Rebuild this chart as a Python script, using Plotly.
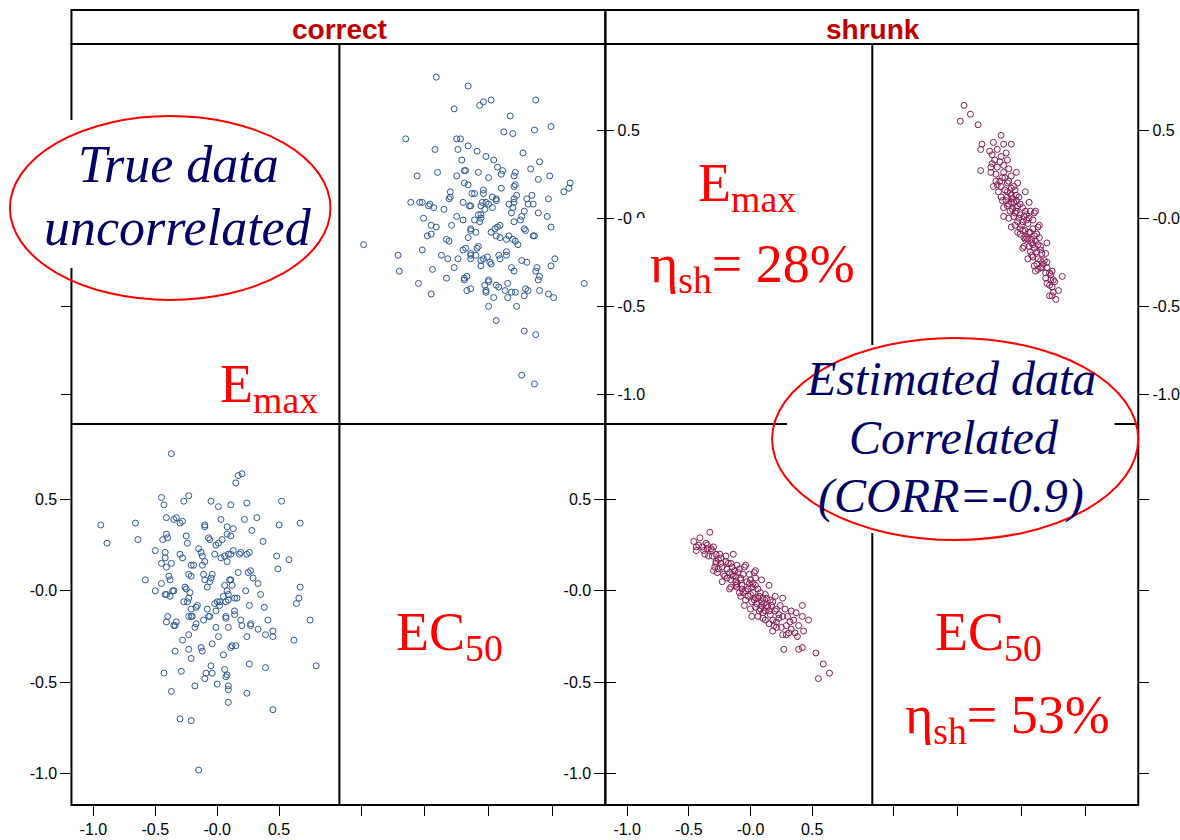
import plotly.graph_objects as go

W, H = 1180, 840

panel_names = ["correct", "shrunk"]
tick_vals = [-1.0, -0.5, 0.0, 0.5]
tick_text = ["-1.0", "-0.5", "-0.0", "0.5"]

emax_x_range = [-1.177, 0.987]
emax_y_range = [-1.167, 0.988]
ec50_x_range = [-1.170, 0.916]
ec50_y_range = [-1.171, 0.912]

correct_emax = [
    -0.37, 0.20, 0.17, 0.15, -0.23, -0.45, -0.27, -0.43, -0.05, 0.01,
    0.11, 0.24, 0.52, -0.94, -0.66, -0.89, -0.64, -0.41, -0.35, -0.33,
    -0.30, -0.28, 0.03, -0.10, -0.10, 0.08, 0.13, 0.22, 0.32, 0.28,
    0.50, 0.67, -0.41, -0.44, -0.40, -0.25, -0.24, -0.07, -0.06, -0.01,
    0.01, 0.04, 0.08, 0.11, 0.37, -0.50, -0.42, -0.42, -0.45, -0.41,
    -0.37, -0.30, -0.28, -0.15, -0.13, -0.12, -0.10, -0.12, -0.02, 0.03,
    0.08, 0.06, 0.09, 0.11, 0.13, 0.18, 0.19, 0.24, 0.26, 0.48,
    0.58, 0.49, -0.21, -0.19, -0.23, -0.21, -0.11, -0.10, -0.05, -0.04,
    -0.06, -0.08, 0.17, 0.25, 0.27, 0.29, 0.33, 0.11, 0.10, 0.06,
    0.12, -0.58, -0.39, -0.38, -0.45, -0.50, -0.42, -0.41, -0.38, -0.36,
    -0.35, -0.26, -0.25, -0.22, -0.23, -0.27, -0.24, -0.21, -0.17, -0.16,
    -0.23, -0.21, -0.20, -0.17, -0.18, -0.11, -0.08, -0.07, -0.06, -0.02,
    0.00, 0.02, 0.02, 0.05, 0.07, 0.09, 0.09, 0.08, 0.07, 0.07,
    0.14, 0.16, 0.14, 0.14, 0.19, 0.23, 0.26, 0.27, 0.27, 0.20,
    0.24, 0.35, 0.38, 0.41, 0.45, 0.45, 0.39, 0.33, 0.67, 0.66,
    0.64, 0.75, 0.62, 0.80, -0.40, -0.33, -0.34, -0.35, -0.23, -0.28,
    -0.34, -0.23, -0.21, -0.13, -0.12, -0.04, -0.01, 0.01, 0.09, 0.11,
    0.12, 0.15, 0.05, -0.05, -0.04, -0.09, -0.10, 0.00, 0.06, 0.07,
    0.08, 0.09, 0.09, 0.09, 0.24, 0.26, 0.39, 0.45, -0.43, -0.29,
    -0.37, -0.30, -0.21, -0.15, -0.18, -0.41, -0.01,
]
correct_ec50 = [
    0.75, 0.64, 0.63, 0.59, 0.52, 0.51, 0.49, 0.47, 0.49, 0.46,
    0.47, 0.48, 0.49, 0.36, 0.37, 0.26, 0.28, 0.40, 0.39, 0.40,
    0.37, 0.38, 0.39, 0.36, 0.35, 0.35, 0.34, 0.39, 0.40, 0.33,
    0.36, 0.37, 0.31, 0.28, 0.29, 0.30, 0.26, 0.29, 0.28, 0.25,
    0.26, 0.28, 0.31, 0.30, 0.27, 0.22, 0.21, 0.18, 0.15, 0.13,
    0.15, 0.20, 0.18, 0.23, 0.21, 0.19, 0.16, 0.14, 0.20, 0.18,
    0.16, 0.19, 0.20, 0.20, 0.22, 0.20, 0.21, 0.20, 0.21, 0.19,
    0.17, 0.12, 0.14, 0.14, 0.09, 0.08, 0.09, 0.06, 0.07, 0.09,
    0.05, 0.02, 0.10, 0.10, 0.11, 0.07, 0.04, 0.06, 0.06, 0.03,
    0.03, 0.06, 0.08, 0.06, 0.04, 0.00, -0.02, -0.02, -0.03, 0.00,
    0.00, 0.02, 0.01, -0.01, -0.04, -0.06, -0.06, -0.10, -0.09, -0.08,
    -0.14, -0.14, -0.14, -0.18, -0.20, -0.16, -0.10, -0.14, -0.14, -0.07,
    -0.06, -0.06, -0.08, -0.03, -0.06, -0.05, -0.02, 0.00, -0.15, -0.14,
    -0.04, -0.04, -0.13, -0.11, -0.16, 0.00, -0.08, -0.18, -0.19, -0.19,
    -0.25, -0.02, -0.09, -0.16, -0.22, -0.25, -0.24, -0.21, 0.02, -0.04,
    -0.07, -0.16, -0.27, -0.41, -0.14, -0.17, -0.19, -0.19, -0.24, -0.27,
    -0.33, -0.32, -0.37, -0.31, -0.33, -0.29, -0.20, -0.25, -0.20, -0.31,
    -0.30, -0.30, -0.35, -0.41, -0.45, -0.45, -0.48, -0.51, -0.43, -0.47,
    -0.46, -0.52, -0.54, -0.61, -0.56, -0.40, -0.42, -0.65, -0.45, -0.44,
    -0.55, -0.70, -0.71, -0.98, -0.52, -0.17, -0.11,
]

shrunk_emax = [
    -0.33, -0.41, -0.46, -0.36, -0.44, -0.39, -0.35, -0.32, -0.31, -0.37,
    -0.34, -0.28, -0.25, -0.24, -0.26, -0.14, -0.20, -0.28, -0.30, -0.27,
    -0.23, -0.18, -0.15, -0.11, -0.05, -0.22, -0.19, -0.14, -0.10, -0.06,
    0.03, 0.04, -0.16, -0.12, -0.08, -0.03, 0.00, 0.09, -0.17, -0.11,
    -0.07, -0.04, 0.01, 0.04, 0.06, 0.15, -0.08, -0.04, -0.02, 0.01,
    0.06, 0.12, 0.13, 0.16, 0.20, 0.26, 0.00, 0.04, 0.09, 0.13,
    0.17, 0.01, 0.06, 0.10, 0.15, 0.20, 0.23, 0.28, 0.33, 0.42,
    0.12, 0.15, 0.18, 0.23, 0.26, 0.18, 0.25, 0.32, 0.33, 0.26,
    0.31, 0.36, 0.39, 0.43, 0.42, 0.47, 0.27, 0.39, 0.42, 0.53,
    0.59, 0.64, 0.55, -0.44, -0.38, -0.30, -0.28, -0.16, -0.04, -0.26,
    -0.21, -0.15, -0.12, -0.08, 0.04, -0.16, -0.11, -0.07, -0.01, -0.09,
    0.00, 0.04, 0.08, 0.05, 0.09, 0.07, 0.12, 0.21, 0.10, 0.19,
    0.21, 0.29, 0.35, 0.29, 0.38, -0.13, -0.09, -0.17, -0.12, -0.06,
    -0.02, 0.02, 0.03, 0.07, 0.10, 0.11, 0.08, 0.14, 0.16, -0.35,
    -0.31, -0.24, -0.19, -0.29, 0.21, -0.42, -0.20, -0.01, 0.02, 0.18,
    0.24, 0.37, 0.30, -0.23, -0.05,
]
shrunk_ec50 = [
    0.32, 0.29, 0.27, 0.26, 0.22, 0.24, 0.23, 0.23, 0.22, 0.20,
    0.19, 0.20, 0.20, 0.18, 0.17, 0.20, 0.16, 0.15, 0.11, 0.10,
    0.13, 0.15, 0.13, 0.14, 0.13, 0.09, 0.07, 0.08, 0.10, 0.09,
    0.10, 0.07, 0.06, 0.05, 0.06, 0.05, 0.06, 0.06, 0.01, 0.02,
    0.01, 0.00, 0.02, 0.03, 0.01, 0.03, -0.03, -0.05, -0.03, -0.06,
    -0.04, -0.02, -0.04, -0.05, -0.03, -0.04, -0.10, -0.09, -0.08, -0.08,
    -0.08, -0.14, -0.14, -0.12, -0.11, -0.11, -0.13, -0.10, -0.11, -0.08,
    -0.16, -0.18, -0.16, -0.15, -0.14, -0.22, -0.20, -0.17, -0.21, -0.24,
    -0.23, -0.23, -0.19, -0.22, -0.14, -0.16, -0.32, -0.32, -0.31, -0.34,
    -0.40, -0.45, -0.48, 0.24, 0.22, 0.24, 0.16, 0.15, 0.14, 0.12,
    0.08, 0.09, 0.08, 0.07, 0.11, 0.02, 0.04, 0.03, 0.04, -0.01,
    -0.02, -0.04, -0.01, -0.07, -0.06, -0.11, -0.11, -0.10, -0.15, -0.19,
    -0.20, -0.19, -0.16, -0.24, -0.25, 0.11, 0.12, 0.10, 0.03, -0.01,
    0.01, -0.01, -0.05, -0.03, -0.04, -0.07, -0.10, -0.09, -0.13, 0.25,
    0.19, 0.15, 0.12, 0.13, -0.17, 0.25, 0.19, 0.09, 0.04, -0.06,
    -0.08, -0.12, -0.14, 0.05, -0.08,
]

correct_color = "#2b5797"
shrunk_color = "#861a52"


def fx(p):
    return p / W


def fy(p):
    return 1 - p / H


fig = go.Figure()


def scatter(x, y, xa, ya, color):
    return go.Scatter(
        x=x, y=y, xaxis=xa, yaxis=ya, mode="markers",
        marker=dict(symbol="circle-open", size=6, color=color,
                    line=dict(width=1, color=color)),
        hoverinfo="skip", showlegend=False,
    )


fig.add_trace(scatter(correct_ec50, correct_emax, "x", "y", correct_color))
fig.add_trace(scatter(correct_emax, correct_ec50, "x2", "y2", correct_color))
fig.add_trace(scatter(shrunk_ec50, shrunk_emax, "x3", "y3", shrunk_color))
fig.add_trace(scatter(shrunk_emax, shrunk_ec50, "x4", "y4", shrunk_color))
for xa, ya in [("x", "y5"), ("x3", "y6"), ("x2", "y7"), ("x4", "y8")]:
    fig.add_trace(go.Scatter(x=[None], y=[None], xaxis=xa, yaxis=ya,
                             mode="markers", showlegend=False, hoverinfo="skip"))

tickfont = dict(family="Liberation Sans, Arial, Helvetica, sans-serif", size=16, color="black")


def ax(rng, dom=None, **kw):
    d = dict(range=rng, showgrid=False, zeroline=False, showline=False,
             ticks="outside", ticklen=10, tickwidth=1, tickcolor="black",
             tickmode="array", tickvals=tick_vals, ticktext=tick_text,
             tickfont=tickfont, fixedrange=True)
    if dom is not None:
        d["domain"] = dom
    d.update(kw)
    return d


c1 = [fx(72), fx(342)]
c2 = [fx(342), fx(610)]
c3 = [fx(610), fx(879)]
c4 = [fx(879), fx(1147)]
top = [fy(424), fy(44)]
bot = [fy(805), fy(424)]

layout_axes = dict(
    xaxis=ax(ec50_x_range, c2, anchor="free", position=fy(805), side="bottom", showticklabels=False),
    yaxis=ax(emax_y_range, top, anchor="x", side="right", ticklen=8),
    xaxis2=ax(emax_x_range, c1, anchor="y2", side="bottom"),
    yaxis2=ax(ec50_y_range, bot, anchor="x2", side="left"),
    xaxis3=ax(ec50_x_range, c4, anchor="free", position=fy(805), side="bottom", showticklabels=False),
    yaxis3=ax(emax_y_range, top, anchor="x3", side="right"),
    xaxis4=ax(emax_x_range, c3, anchor="y4", side="bottom"),
    yaxis4=ax(ec50_y_range, bot, anchor="x4", side="left"),
    yaxis5=ax(emax_y_range, None, overlaying="y", anchor="free", position=fx(72), side="left", showticklabels=False),
    yaxis6=ax(emax_y_range, None, overlaying="y3", anchor="free", position=fx(610), side="left", showticklabels=False, ticklen=8),
    yaxis7=ax(ec50_y_range, None, overlaying="y2", anchor="free", position=fx(610), side="right", showticklabels=False),
    yaxis8=ax(ec50_y_range, None, overlaying="y4", anchor="free", position=fx(1147), side="right", showticklabels=False),
)

shapes = []


def rect(x0, y0, x1, y1, **kw):
    d = dict(type="rect", xref="paper", yref="paper", layer="above",
             x0=fx(x0), x1=fx(x1), y0=fy(y1), y1=fy(y0))
    d.update(kw)
    return d


def hline(x0, x1, y):
    return dict(type="line", xref="paper", yref="paper", layer="above",
                x0=fx(x0), x1=fx(x1), y0=fy(y), y1=fy(y), line=dict(color="black", width=2))


def vline(x, y0, y1):
    return dict(type="line", xref="paper", yref="paper", layer="above",
                x0=fx(x), x1=fx(x), y0=fy(y0), y1=fy(y1), line=dict(color="black", width=2))


frame = dict(line=dict(color="black", width=2), fillcolor="rgba(0,0,0,0)")
shapes += [
    rect(72, 10, 610, 44, **frame),
    rect(610, 10, 1147, 44, **frame),
    rect(72, 44, 610, 805, **frame),
    rect(610, 44, 1147, 805, **frame),
    vline(342, 44, 805),
    vline(879, 44, 805),
    hline(72, 1147, 424),
]
white = dict(line=dict(width=0), fillcolor="white")
shapes += [
    rect(20, 120, 325, 268, **white),
    rect(637, 218, 865, 300, **white),
    rect(793, 345, 1123, 533, **white),
]
ring = dict(line=dict(color="#ff0000", width=2), fillcolor="rgba(0,0,0,0)")
shapes += [
    dict(type="circle", xref="paper", yref="paper", layer="above",
         x0=fx(10), x1=fx(333), y0=fy(300), y1=fy(116), **ring),
    dict(type="circle", xref="paper", yref="paper", layer="above",
         x0=fx(778), x1=fx(1147), y0=fy(540), y1=fy(338), **ring),
]


def ann(text, x, y, size, color, family, xanchor="center"):
    return dict(text=text, x=fx(x), y=fy(y), xref="paper", yref="paper",
                showarrow=False, xanchor=xanchor, yanchor="middle",
                font=dict(family=family, size=size, color=color))


strip_font = "Liberation Sans, Arial, Helvetica, sans-serif"
serif = "Liberation Serif, Times New Roman, serif"
navy = "#000066"
red = "#ff0000"

annotations = [
    ann("<b>%s</b>" % panel_names[0], 342, 29.5, 28, "#c00000", strip_font),
    ann("<b>%s</b>" % panel_names[1], 880, 29.5, 28, "#c00000", strip_font),
    ann("<i>True data</i>", 180, 164.5, 52, navy, serif),
    ann("<i>uncorrelated</i>", 179, 227.5, 52, navy, serif),
    ann("<i>Estimated data</i>", 958, 379, 48, navy, serif),
    ann("<i>Correlated</i>", 961, 437, 48, navy, serif),
    ann("<i>(CORR=-0.9)</i>", 958, 496, 48, navy, serif),
    ann("E<sub>max</sub>", 220, 387.5, 54, red, serif, "left"),
    ann("E<sub>max</sub>", 701, 186, 54, red, serif, "left"),
    ann("η<sub>sh</sub>= 28%", 653, 267, 54, red, serif, "left"),
    ann("EC<sub>50</sub>", 397, 635.5, 54, red, serif, "left"),
    ann("EC<sub>50</sub>", 940, 635.5, 54, red, serif, "left"),
    ann("η<sub>sh</sub>= 53%", 910, 718.5, 54, red, serif, "left"),
]

fig.update_layout(
    width=W, height=H,
    margin=dict(l=0, r=0, t=0, b=0),
    paper_bgcolor="white", plot_bgcolor="white",
    showlegend=False,
    shapes=shapes,
    annotations=annotations,
    **layout_axes,
)

fig.write_html("out.html")
